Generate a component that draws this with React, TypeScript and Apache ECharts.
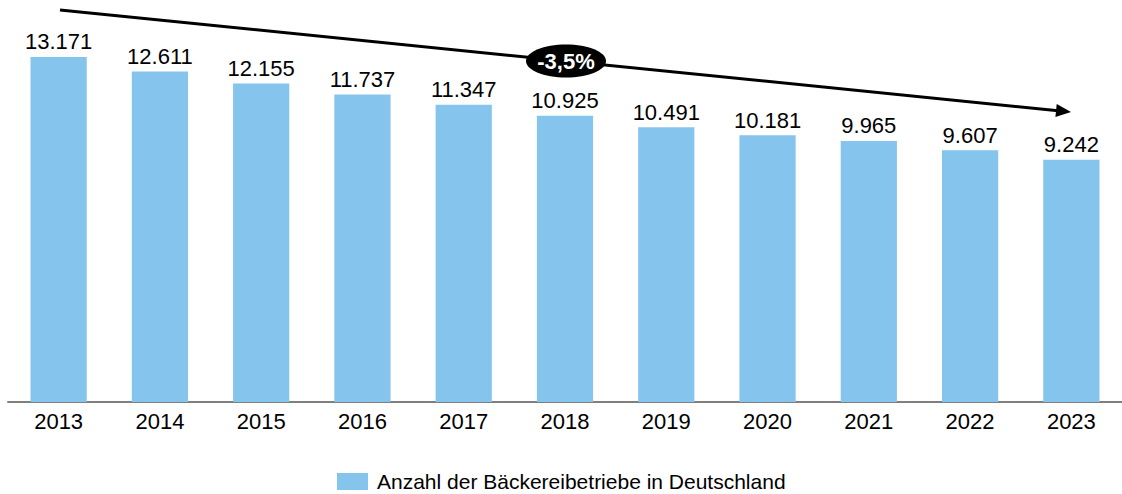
import React, { useEffect, useRef } from "react";
import * as echarts from "echarts";

const years = ["2013", "2014", "2015", "2016", "2017", "2018", "2019", "2020", "2021", "2022", "2023"];
const betriebe = [13171, 12611, 12155, 11737, 11347, 10925, 10491, 10181, 9965, 9607, 9242];
const seriesName = "Anzahl der Bäckereibetriebe in Deutschland";
const changeLabel = "-3,5%";

const fmt = (v: number) => String(v).replace(/\B(?=(\d{3})+(?!\d))/g, ".");
const FF = "Liberation Sans, Arial, sans-serif";

export default function App() {
  const ref = useRef<HTMLDivElement>(null);
  useEffect(() => {
    document.body.style.margin = "0";
    const chart = echarts.init(ref.current!, null, { renderer: "svg" });
    const x1 = 60, y1 = 10, x2 = 1071, y2 = 112;
    const ang = Math.atan2(y2 - y1, x2 - x1);
    const L = 15, W = 6.5;
    const bx = x2 - L * Math.cos(ang), by = y2 - L * Math.sin(ang);
    const px = -Math.sin(ang) * W, py = Math.cos(ang) * W;
    chart.setOption({
      animation: false,
      textStyle: { fontFamily: FF },
      grid: { left: 8, right: 0, top: 9, bottom: 92 },
      xAxis: {
        type: "category",
        data: years,
        axisLine: { lineStyle: { color: "#7f7f7f", width: 2 } },
        axisTick: { show: false },
        axisLabel: { color: "#000", fontSize: 22, margin: 8, fontFamily: FF },
      },
      yAxis: { type: "value", min: 0, max: 15000, show: false, splitLine: { show: false } },
      legend: {
        left: 332,
        top: 466,
        itemWidth: 31,
        itemHeight: 17,
        icon: "rect",
        textStyle: { color: "#000", fontSize: 21, padding: [0, 0, 0, 4], fontFamily: FF },
        data: [seriesName],
      },
      series: [
        {
          type: "bar",
          name: seriesName,
          data: betriebe,
          barWidth: "55.5%",
          itemStyle: { color: "#85C4EC" },
          label: {
            show: true,
            position: "top",
            distance: 4,
            color: "#000",
            fontSize: 22,
            fontFamily: FF,
            formatter: (p: any) => fmt(p.value),
          },
        },
      ],
      graphic: [
        {
          type: "line",
          shape: { x1, y1, x2: bx + 2 * Math.cos(ang), y2: by + 2 * Math.sin(ang) },
          style: { stroke: "#000", lineWidth: 3 },
          z: 10,
        },
        {
          type: "polygon",
          shape: { points: [[x2, y2], [bx + px, by + py], [bx - px, by - py]] },
          style: { fill: "#000" },
          z: 10,
        },
        {
          type: "ellipse",
          shape: { cx: 566, cy: 61, rx: 40, ry: 16.5 },
          style: { fill: "#000" },
          z: 11,
        },
        {
          type: "text",
          x: 566,
          y: 61,
          style: {
            text: changeLabel,
            fill: "#fff",
            font: "bold 22px Liberation Sans, Arial, sans-serif",
            align: "center",
            verticalAlign: "middle",
          },
          z: 12,
        },
      ],
    });
    return () => chart.dispose();
  }, []);
  return <div ref={ref} style={{ width: 1122, height: 494 }} />;
}
